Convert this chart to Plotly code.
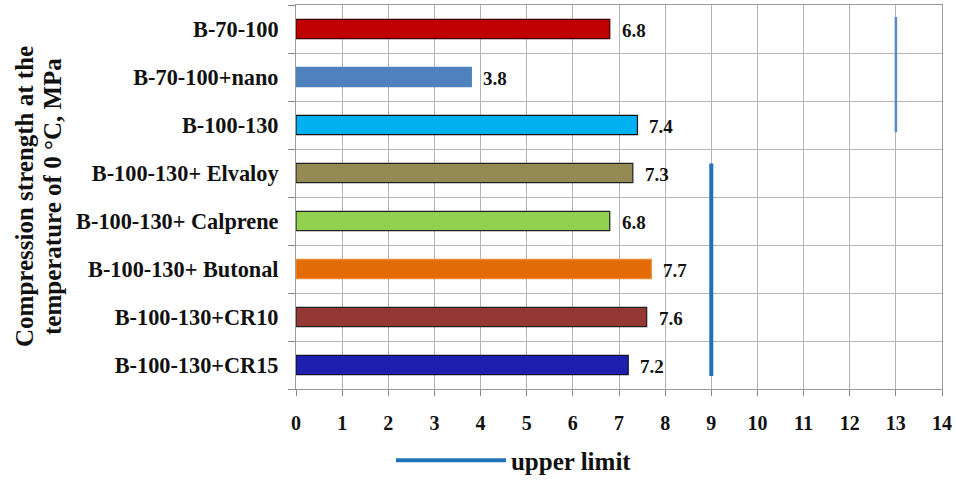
import plotly.graph_objects as go

categories = ["B-70-100", "B-70-100+nano", "B-100-130", "B-100-130+ Elvaloy",
              "B-100-130+ Calprene", "B-100-130+ Butonal", "B-100-130+CR10", "B-100-130+CR15"]
values = [6.8, 3.8, 7.4, 7.3, 6.8, 7.7, 7.6, 7.2]
bar_colors = ["#c00000", "#4f81bd", "#00b0f0", "#948a54", "#92d050", "#e36c09", "#953735", "#1f1faf"]
bar_edges = ["#3a0000", "#4f81bd", "#101010", "#202020", "#202020", "#f08a30", "#202020", "#101030"]
y_title_lines = ["Compression strength at the", "temperature of 0 °C, MPa"]

# upper limit segments: (x value, y from, y to) in category index units
limit_a_x = [13, 13]
limit_a_y = [-0.25, 2.15]
limit_b_x = [9, 9]
limit_b_y = [2.8, 7.23]

x_ticks = list(range(0, 15))

ypos = list(range(len(categories)))
font_serif = "Liberation Serif, Times New Roman, serif"

fig = go.Figure()
fig.add_trace(go.Bar(
    x=values, y=ypos, orientation="h", width=0.40,
    marker=dict(color=bar_colors, line=dict(color=bar_edges, width=1.2)),
    showlegend=False, hoverinfo="x+y"))

for v, yp in zip(values, ypos):
    fig.add_annotation(x=v, y=yp, text=f"{v:.1f}", showarrow=False, xanchor="left",
                       xshift=10, yshift=-1,
                       font=dict(family=font_serif, size=19, color="#111111", weight="bold"))

for line_text, shift in zip(y_title_lines, [-272, -244]):
    fig.add_annotation(xref="paper", yref="paper", x=0, y=0.5, xshift=shift,
                       text=line_text, textangle=-90, showarrow=False,
                       xanchor="center", yanchor="middle",
                       font=dict(family=font_serif, size=25, color="#111111", weight="bold"))

fig.add_trace(go.Scatter(x=limit_a_x, y=limit_a_y, mode="lines",
                         line=dict(color="#5b8ac8", width=2.5), showlegend=False))
fig.add_trace(go.Scatter(x=limit_b_x, y=limit_b_y, mode="lines",
                         line=dict(color="#1f72b8", width=4), name="upper limit", showlegend=True))

fig.update_layout(
    width=956, height=488,
    margin=dict(l=296, r=14, t=5, b=99),
    plot_bgcolor="white", paper_bgcolor="white",
    font=dict(family=font_serif, size=16, color="#111111", weight="bold"),
    legend=dict(orientation="h", x=0.147, y=-0.246, xanchor="left", yanchor="bottom",
                font=dict(family=font_serif, size=25, color="#111111", weight="bold"),
                itemwidth=110),
)
fig.update_xaxes(range=[0, 14], tickvals=x_ticks, showgrid=True, gridcolor="#b4b4b4", gridwidth=1,
                 ticks="outside", ticklen=6, tickcolor="#888888",
                 ticklabelstandoff=10,
                 tickfont=dict(family=font_serif, size=20, color="#111111", weight="bold"),
                 showline=True, linecolor="#999999", mirror=True, zeroline=False)
fig.update_yaxes(range=[7.5, -0.5], tickvals=ypos, ticktext=categories, ticks="",
                 showgrid=False, zeroline=False,
                 minor=dict(tick0=0.5, dtick=1, showgrid=True, gridcolor="#b4b4b4",
                            ticks="outside", ticklen=7, tickcolor="#888888"),
                 tickfont=dict(family=font_serif, size=22.3, color="#111111", weight="bold"),
                 showline=True, linecolor="#999999", mirror=True,
                 ticklabelstandoff=12)

fig.write_html("out.html", config={"displayModeBar": False},
               post_script="document.body.style.margin='0px';")
